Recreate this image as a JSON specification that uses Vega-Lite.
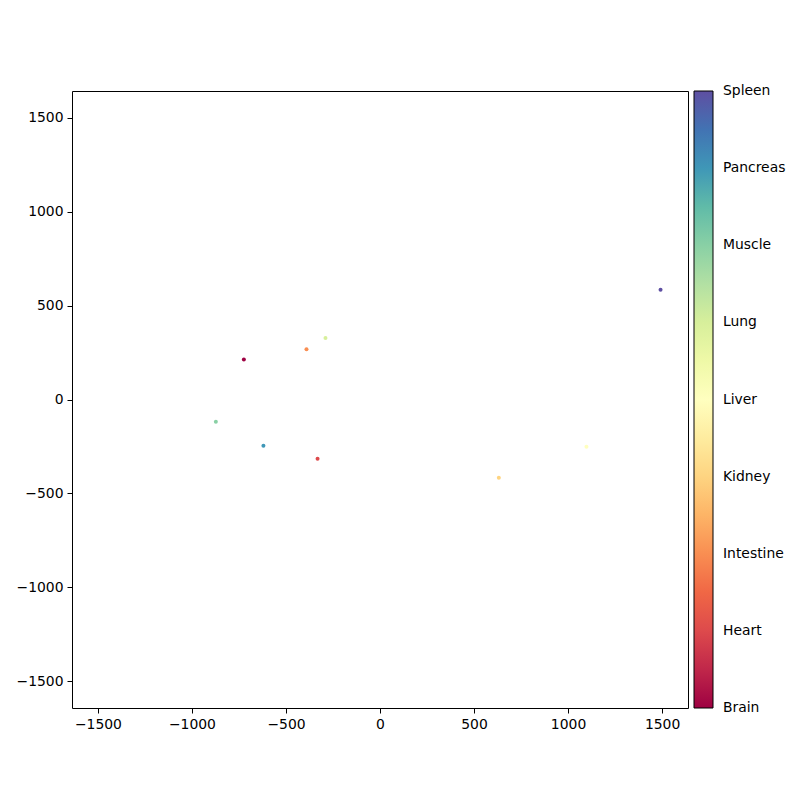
{
  "$schema": "https://vega.github.io/schema/vega-lite/v6.json",
  "width": 616,
  "height": 617,
  "autosize": {"type": "none"},
  "padding": {"left": 72, "top": 91, "right": 112, "bottom": 92},
  "background": "white",
  "config": {
    "view": {"stroke": "black", "strokeWidth": 1},
    "axis": {
      "grid": false,
      "domain": false,
      "tickColor": "black",
      "tickSize": 5,
      "tickWidth": 1,
      "labelPadding": 4,
      "labelFont": "DejaVu Sans",
      "labelFontSize": 13.9,
      "labelColor": "black",
      "title": null,
      "labelExpr": "replace(format(datum.value, 'd'), '-', '\u2212')"
    },
    "legend": {
      "labelFont": "DejaVu Sans",
      "labelFontSize": 13.9,
      "labelColor": "black"
    }
  },
  "data": {
    "values": [
      {"x": -724, "y": 213, "tissue": "Brain", "code": 0},
      {"x": -332, "y": -315, "tissue": "Heart", "code": 1},
      {"x": -391, "y": 267, "tissue": "Intestine", "code": 2},
      {"x": 632, "y": -416, "tissue": "Kidney", "code": 3},
      {"x": 1098, "y": -252, "tissue": "Liver", "code": 4},
      {"x": -290, "y": 328, "tissue": "Lung", "code": 5},
      {"x": -873, "y": -119, "tissue": "Muscle", "code": 6},
      {"x": -620, "y": -246, "tissue": "Pancreas", "code": 7},
      {"x": 1492, "y": 584, "tissue": "Spleen", "code": 8}
    ]
  },
  "mark": {"type": "point", "filled": true, "shape": "circle", "size": 16, "opacity": 1},
  "encoding": {
    "x": {
      "field": "x",
      "type": "quantitative",
      "scale": {"domain": [-1638, 1638], "nice": false, "zero": false},
      "axis": {"values": [-1500, -1000, -500, 0, 500, 1000, 1500]}
    },
    "y": {
      "field": "y",
      "type": "quantitative",
      "scale": {"domain": [-1642, 1642], "nice": false, "zero": false},
      "axis": {"values": [-1500, -1000, -500, 0, 500, 1000, 1500]}
    },
    "color": {
      "field": "code",
      "type": "quantitative",
      "scale": {
        "domain": [-0.0005, 0.8, 1.6, 2.4, 3.2, 4, 4.8, 5.6, 6.4, 7.2, 8.0005],
        "range": ["#9e0142", "#d53e4f", "#f46d43", "#fdae61", "#fee08b", "#ffffbf", "#e6f598", "#abdda4", "#66c2a5", "#3288bd", "#5e4fa2"],
        "interpolate": "rgb"
      },
      "legend": {
        "orient": "none",
        "legendX": 622,
        "legendY": 0,
        "title": null,
        "direction": "vertical",
        "gradientLength": 617,
        "gradientThickness": 19,
        "gradientStrokeColor": "black",
        "gradientStrokeWidth": 1,
        "values": [0, 1, 2, 3, 4, 5, 6, 7, 8],
        "labelExpr": "['Brain','Heart','Intestine','Kidney','Liver','Lung','Muscle','Pancreas','Spleen'][datum.value]",
        "labelOverlap": false,
        "labelOffset": 10
      }
    }
  }
}
